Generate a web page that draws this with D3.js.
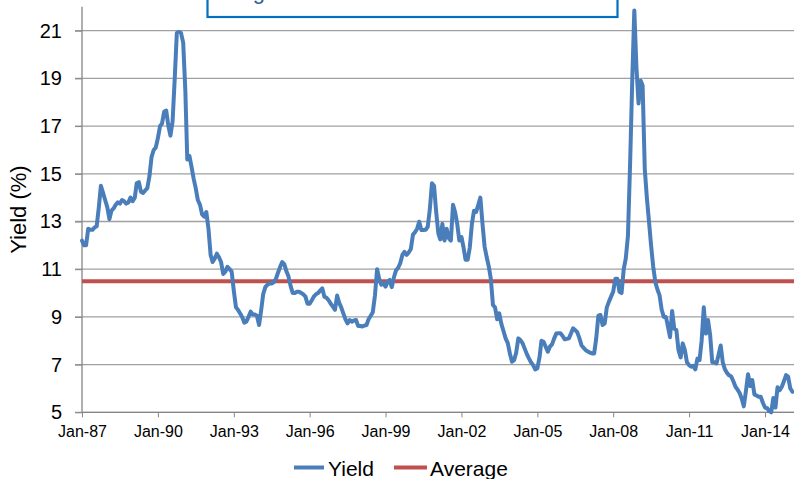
<!DOCTYPE html>
<html>
<head>
<meta charset="utf-8">
<script src="https://cdn.jsdelivr.net/npm/d3@7"></script>
<style>
  body { margin: 0; background: #fff; }
  svg { display: block; }
  text { font-family: "Liberation Sans", Arial, sans-serif; }
</style>
</head>
<body>
<svg id="chart" width="794" height="479"></svg>
<script>
// Monthly high-yield index yield (%), starting January 1987
const startYear = 1987;
const yieldValues = [
  // 1987
  12.2, 12.0, 12.0, 12.7, 12.65, 12.65, 12.75, 12.8, 13.6, 14.5, 14.2, 13.9,
  // 1988
  13.6, 13.1, 13.45, 13.55, 13.7, 13.8, 13.75, 13.9, 13.85, 13.75, 13.8, 14.0,
  // 1989
  13.85, 14.0, 14.6, 14.65, 14.25, 14.2, 14.3, 14.4, 14.9, 15.7, 16.0, 16.1,
  // 1990
  16.5, 17.0, 17.1, 17.6, 17.65, 17.0, 16.6, 17.2, 19.0, 20.9, 20.95, 20.9,
  // 1991
  20.5, 18.5, 15.6, 15.75, 15.3, 14.8, 14.4, 13.9, 13.7, 13.3, 13.2, 13.4,
  // 1992
  12.7, 11.6, 11.3, 11.45, 11.65, 11.5, 11.3, 10.8, 10.9, 11.1, 11.0, 10.9,
  // 1993
  10.1, 9.4, 9.3, 9.15, 9.0, 8.76, 8.8, 9.0, 9.22, 9.1, 9.1, 9.05,
  // 1994
  8.66, 9.3, 9.95, 10.25, 10.35, 10.4, 10.4, 10.45, 10.6, 10.85, 11.1, 11.3,
  // 1995
  11.2, 10.9, 10.7, 10.3, 10.0, 10.0, 10.05, 10.05, 10.0, 9.95, 9.85, 9.55,
  // 1996
  9.55, 9.7, 9.85, 9.95, 10.0, 10.1, 10.2, 9.85, 9.8, 9.7, 9.55, 9.43,
  // 1997
  9.3, 9.9, 9.6, 9.4, 9.15, 8.9, 8.73, 8.87, 8.8, 8.85, 8.87, 8.62,
  // 1998
  8.62, 8.6, 8.63, 8.66, 8.9, 9.05, 9.2, 9.9, 11.0, 10.6, 10.35, 10.4,
  // 1999
  10.27, 10.48, 10.55, 10.25, 10.65, 10.95, 11.05, 11.25, 11.6, 11.73, 11.6, 11.7,
  // 2000
  11.85, 12.45, 12.55, 12.7, 12.99, 12.64, 12.64, 12.65, 12.78, 13.5, 14.6, 14.5,
  // 2001
  13.4, 12.5, 12.25, 12.9, 12.2, 12.7, 12.3, 12.2, 13.7, 13.4, 12.9, 12.2,
  // 2002
  12.35, 11.9, 11.4, 11.4, 11.9, 12.9, 13.45, 13.4, 13.7, 14.0, 12.9, 11.95,
  // 2003
  11.5, 11.1, 10.6, 9.5, 9.4, 8.9, 9.15, 8.7, 8.4, 8.1, 7.9, 7.47,
  // 2004
  7.12, 7.19, 7.5, 8.1, 8.03, 7.9, 7.68, 7.45, 7.26, 7.1, 6.98, 6.8,
  // 2005
  6.84, 7.3, 8.0, 7.96, 7.75, 7.54, 7.75, 7.85, 8.1, 8.3, 8.31, 8.31,
  // 2006
  8.2, 8.06, 8.08, 8.1, 8.3, 8.52, 8.45, 8.35, 8.1, 7.8, 7.7, 7.6,
  // 2007
  7.55, 7.5, 7.47, 7.47, 8.1, 9.05, 9.08, 8.66, 8.73, 9.4, 9.64, 9.85,
  // 2008
  10.06, 10.6, 10.6, 10.05, 10.0, 11.0, 11.45, 12.4, 15.4, 18.8, 21.85, 19.5,
  // 2009
  17.95, 18.9, 18.7, 15.2, 14.0, 13.0, 12.0, 11.1, 10.45, 10.15, 9.9, 9.3,
  // 2010
  9.0, 9.0, 8.6, 8.15, 9.25, 8.5, 8.45, 7.6, 7.3, 7.89, 7.61, 7.1,
  // 2011
  6.98, 6.91, 6.95, 6.8, 7.25, 7.19, 8.0, 9.4, 8.3, 8.87, 8.24, 7.1,
  // 2012
  7.1, 7.05, 7.4, 7.8, 7.1, 6.8, 6.65, 6.55, 6.5, 6.3, 6.07, 5.95,
  // 2013
  5.8, 5.55, 5.25, 5.9, 6.6, 6.1, 6.35, 5.75, 5.7, 5.65, 5.65, 5.4,
  // 2014
  5.2, 5.17, 5.05, 5.0, 5.6, 5.2, 6.05, 5.93, 6.07, 6.3, 6.56, 6.5,
  // 2015
  6.0, 5.86
];
const averageValue = 10.5;
const yTicks = [5, 7, 9, 11, 13, 15, 17, 19, 21];
const xTickYears = [1987, 1990, 1993, 1996, 1999, 2002, 2005, 2008, 2011, 2014];
const seriesNames = ["Yield", "Average"];
const titleText = "High Yield Bond Index Yield";

const colors = { yield: "#4A7EBB", average: "#C0504D", grid: "#A0A0A0", axis: "#868686", title: "#0070C0" };

const W = 794, H = 479;
const plotLeft = 82, plotRight = W;

const svg = d3.select("#chart");

const dates = yieldValues.map((_, i) => new Date(startYear, i, 1));

const x = d3.scaleTime()
  .domain([new Date(1987, 0, 1), new Date(2014, 0, 1)])
  .range([82, 765]);
const y = d3.scaleLinear().domain([5, 22]).range([412.3, 6.85]);

// horizontal gridlines (extend slightly left of the axis as tick marks)
svg.append("g").selectAll("line").data(yTicks).join("line")
  .attr("x1", plotLeft - 7).attr("x2", plotRight)
  .attr("y1", d => y(d)).attr("y2", d => y(d))
  .attr("stroke", colors.grid).attr("stroke-width", 1.3);

// y axis labels
const yAxis = d3.axisLeft(y).tickValues(yTicks).tickSize(7).tickPadding(13).tickFormat(d3.format("d"));
const gy = svg.append("g").attr("transform", `translate(${plotLeft},0)`).call(yAxis);
gy.select(".domain").remove();
gy.selectAll(".tick line").attr("stroke", colors.axis);
gy.selectAll("text").attr("font-size", 20).attr("fill", "#000").style("font-family", "'Liberation Sans', Arial, sans-serif");

// vertical axis line
svg.append("line")
  .attr("x1", plotLeft).attr("x2", plotLeft)
  .attr("y1", y(22)).attr("y2", y(5))
  .attr("stroke", colors.axis).attr("stroke-width", 1.3);

// x axis
const xAxis = d3.axisBottom(x)
  .tickValues(xTickYears.map(yr => new Date(yr, 0, 1)))
  .tickSize(5).tickPadding(8)
  .tickFormat(d3.timeFormat("%b-%y"));
const gx = svg.append("g").attr("transform", `translate(0,${y(5)})`).call(xAxis);
gx.select(".domain").remove();
gx.selectAll(".tick line").attr("stroke", colors.axis);
gx.selectAll("text").attr("font-size", 16).attr("fill", "#000").style("font-family", "'Liberation Sans', Arial, sans-serif");
svg.append("line")
  .attr("x1", plotLeft).attr("x2", plotRight)
  .attr("y1", y(5)).attr("y2", y(5))
  .attr("stroke", colors.axis).attr("stroke-width", 1.3);

// y axis title
svg.append("text")
  .attr("transform", `translate(26,${(y(22) + y(5)) / 2}) rotate(-90)`)
  .attr("text-anchor", "middle")
  .attr("font-size", 22)
  .attr("fill", "#000")
  .text("Yield (%)");

// average line
svg.append("line")
  .attr("x1", plotLeft).attr("x2", plotRight)
  .attr("y1", y(averageValue)).attr("y2", y(averageValue))
  .attr("stroke", colors.average).attr("stroke-width", 4);

// yield series
const line = d3.line().x((d, i) => x(dates[i])).y(d => y(d));
svg.append("path")
  .datum(yieldValues)
  .attr("d", line)
  .attr("fill", "none")
  .attr("stroke", colors.yield)
  .attr("stroke-width", 4)
  .attr("stroke-linejoin", "round")
  .attr("stroke-linecap", "round");

// title box at the top
const titleG = svg.append("g");
titleG.append("rect")
  .attr("x", 207.5).attr("y", -40).attr("width", 410).attr("height", 57)
  .attr("fill", "#fff").attr("stroke", colors.title).attr("stroke-width", 2.2);
titleG.append("text")
  .attr("x", 232).attr("y", -1.5)
  .attr("font-size", 22)
  .attr("fill", "#2F5D9A")
  .text(titleText);

// legend
const legend = svg.append("g");
const legendItems = [
  { name: seriesNames[0], color: colors.yield, x1: 294, x2: 324, tx: 328 },
  { name: seriesNames[1], color: colors.average, x1: 394, x2: 427, tx: 430 }
];
legendItems.forEach(it => {
  legend.append("line")
    .attr("x1", it.x1).attr("x2", it.x2).attr("y1", 467.5).attr("y2", 467.5)
    .attr("stroke", it.color).attr("stroke-width", 4);
  legend.append("text")
    .attr("x", it.tx).attr("y", 475.5)
    .attr("font-size", 21).attr("fill", "#000")
    .text(it.name);
});
</script>
</body>
</html>
